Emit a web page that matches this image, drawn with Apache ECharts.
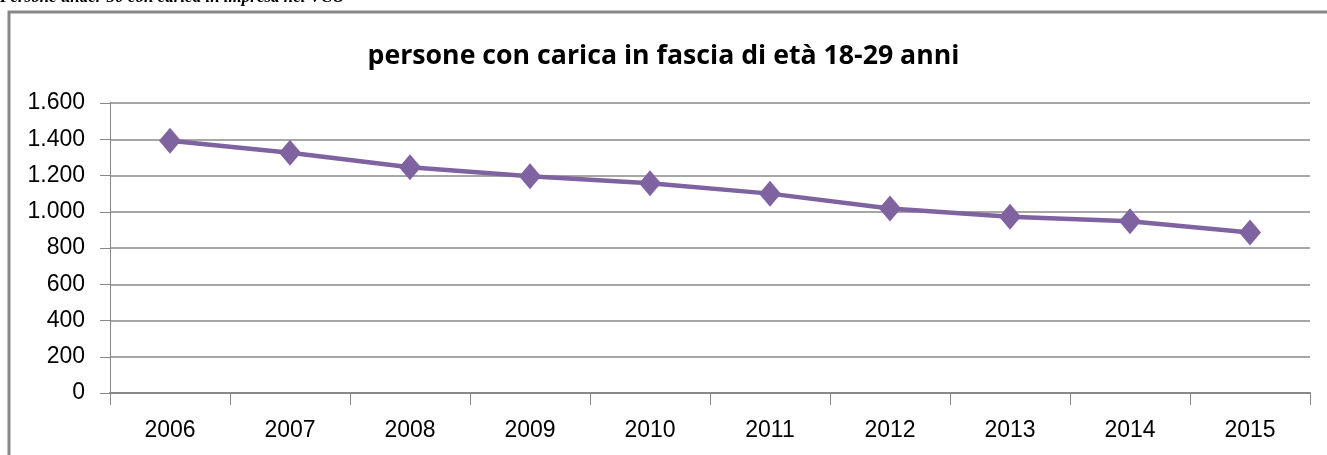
<!DOCTYPE html>
<html>
<head>
<meta charset="utf-8">
<style>
html,body{margin:0;padding:0;background:#fff;}
#c{width:1327px;height:455px;}
</style>
<script src="https://cdn.jsdelivr.net/npm/echarts@6/dist/echarts.min.js"></script>
</head>
<body>
<div id="c"></div>
<script>
const categories = ['2006','2007','2008','2009','2010','2011','2012','2013','2014','2015'];
const values = [1392, 1325, 1245, 1196, 1157, 1100, 1018, 972, 948, 885];
const yTicks = [0, 200, 400, 600, 800, 1000, 1200, 1400, 1600];
const titleText = 'persone con carica in fascia di età 18-29 anni';
const captionText = 'Persone under 30 con carica in impresa nel VCO';

function fmt(v){ return String(v).replace(/\B(?=(\d{3})+(?!\d))/g,'.'); }

const chart = echarts.init(document.getElementById('c'), null, {renderer:'canvas'});
chart.setOption({
  animation:false,
  backgroundColor:'#fff',
  title:{
    text:titleText, left:'center', top:38,
    textStyle:{fontFamily:'Open Sans', fontWeight:'bold', fontSize:26.7, color:'#000'}
  },
  graphic:[
    {type:'rect', shape:{x:9, y:12, width:1330, height:460}, style:{fill:'none', stroke:'#888', lineWidth:3}, silent:true},
    {type:'text', left:0, top:-11, style:{text:captionText, font:'italic bold 17px "Liberation Serif"', fill:'#000'}}
  ],
  grid:{left:110, right:17, top:103, bottom:62},
  xAxis:{
    type:'category', data:categories, boundaryGap:true,
    axisLine:{lineStyle:{color:'#888', width:2}},
    axisTick:{show:true, length:12, lineStyle:{color:'#888'}, alignWithLabel:false},
    axisLabel:{fontFamily:'Liberation Sans', fontSize:23, color:'#000', margin:26}
  },
  yAxis:{
    type:'value', min:0, max:1600, interval:200,
    axisLine:{show:true, lineStyle:{color:'#888', width:1}},
    axisTick:{show:true, length:10, lineStyle:{color:'#888'}},
    splitLine:{lineStyle:{color:'#888', width:1.5}},
    axisLabel:{fontFamily:'Liberation Sans', fontSize:23, color:'#000', margin:25, formatter:v=>yTicks.includes(v)?fmt(v):''}
  },
  series:[{
    type:'line', data:values,
    symbol:'diamond', symbolSize:[22,26],
    lineStyle:{color:'#7f63a1', width:4.5},
    itemStyle:{color:'#7f63a1'}
  }]
});
</script>
</body>
</html>
